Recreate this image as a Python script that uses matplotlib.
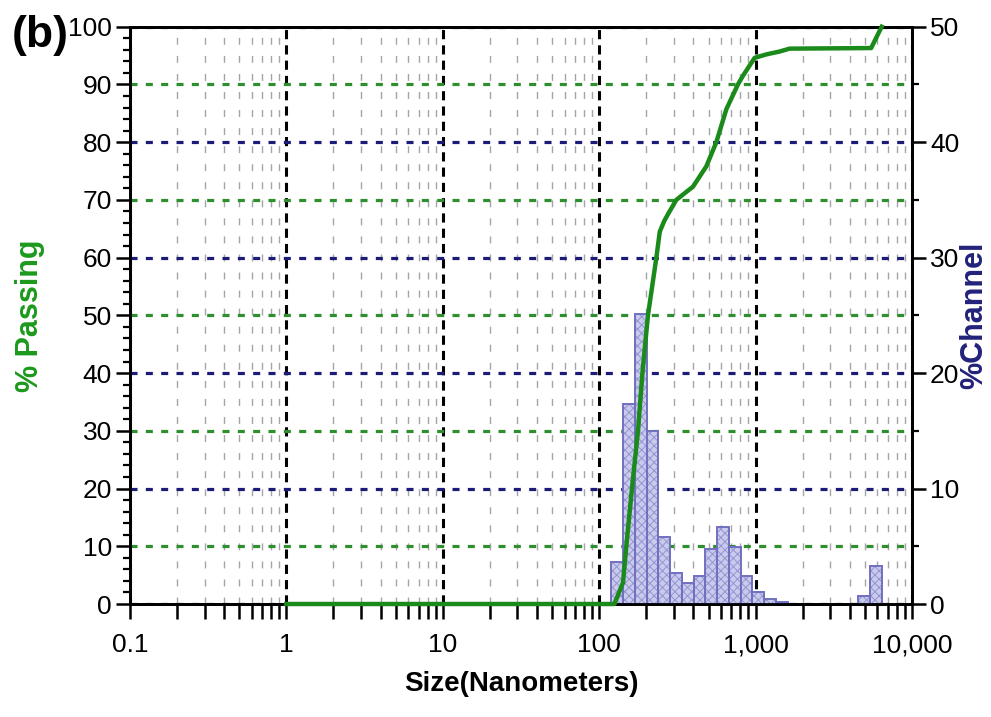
import numpy as np
import matplotlib
matplotlib.use("Agg")
import matplotlib.pyplot as plt
from matplotlib.ticker import FixedLocator, MultipleLocator, LogLocator, NullFormatter

# ---- data ----
# histogram channels: bin edges (nm) and % channel
bin_left = [119.4, 142.0, 168.9, 200.8, 238.8, 284.0, 337.7, 401.6, 477.6, 568.0,
            675.5, 803.3, 955.3, 1136.0, 1351.0, 4543.0, 5403.0]
bin_right = [142.0, 168.9, 200.8, 238.8, 284.0, 337.7, 401.6, 477.6, 568.0, 675.5,
             803.3, 955.3, 1136.0, 1351.0, 1607.0, 5403.0, 6426.0]
channel_pct = [3.6, 17.3, 25.1, 15.0, 5.8, 2.65, 1.8, 2.45, 4.75, 6.7,
               4.95, 2.45, 1.0, 0.45, 0.15, 0.7, 3.25]

# cumulative % passing curve
cum_size = [1, 125, 142, 149, 162, 177, 189, 205, 232, 244, 260, 275, 311, 398, 484,
            561, 650, 771, 830, 986, 1170, 1423, 1650, 5480, 6400]
cum_pct = [0, 0, 3.7, 10, 20, 30, 40, 50, 60, 64.5, 66.3, 67.5, 70, 72.3, 75.8,
           80, 85.7, 90, 91.5, 94.6, 95.2, 95.7, 96.2, 96.3, 100]

x_ticks = [0.1, 1, 10, 100, 1000, 10000]
x_ticklabels = ["0.1", "1", "10", "100", "1,000", "10,000"]
left_ticks = list(range(0, 101, 10))
right_ticks = list(range(0, 51, 10))

# ---- style ----
plt.rcParams['font.family'] = ['Liberation Sans', 'DejaVu Sans']
plt.rcParams['hatch.linewidth'] = 0.7
GREEN_GRID = '#2f8f2f'
NAVY_GRID = '#1c1c78'
CURVE = '#1a8a1a'

fig = plt.figure(figsize=(9.91, 7.17), dpi=100)
pos = [130 / 991, 1 - 604 / 717, (912 - 130) / 991, (604 - 26.7) / 717]
axl = fig.add_axes(pos)
axr = axl.twinx()
axl.set_zorder(2)
axr.set_zorder(1)
axl.patch.set_visible(False)

axl.set_xscale('log')
axl.set_xlim(0.1, 10000)
axl.set_ylim(0, 100)
axr.set_ylim(0, 50)

# x locators (shared)
axl.xaxis.set_major_locator(FixedLocator(x_ticks))
axl.xaxis.set_minor_locator(LogLocator(base=10, subs=np.arange(2, 10), numticks=20))
axl.xaxis.set_minor_formatter(NullFormatter())

# grids on the lower (right) axes, under the bars
axr.xaxis.set_visible(True)
axr.set_axisbelow(True)
axr.yaxis.set_major_locator(FixedLocator(right_ticks))
axr.yaxis.set_minor_locator(MultipleLocator(5))
axr.grid(which='major', axis='y', color=NAVY_GRID, linestyle=(0, (2.2, 2.6)), linewidth=2.3)
axr.grid(which='minor', axis='y', color=GREEN_GRID, linestyle=(0, (2.2, 2.6)), linewidth=2.3)
axr.grid(which='major', axis='x', color='black', linestyle=(0, (3.0, 2.0)), linewidth=2.2)
axr.grid(which='minor', axis='x', color='#a4a4ac', linestyle=(0, (5, 8)), linewidth=1.0)
axr.tick_params(axis='x', which='both', length=0, labelbottom=False, labeltop=False)

# histogram bars
lefts = np.array(bin_left)
widths = np.array(bin_right) - lefts
axr.bar(lefts, channel_pct, width=widths, align='edge', facecolor='#cacaec',
        edgecolor='#9494d2', hatch='xxxx', linewidth=0, zorder=2)
axr.bar(lefts, channel_pct, width=widths, align='edge', fill=False,
        edgecolor='#7070c0', linewidth=1.4, zorder=3)

# cumulative curve
axl.plot(cum_size, cum_pct, color=CURVE, linewidth=3.2, solid_joinstyle='round',
         zorder=5, clip_on=False)

# ticks
axl.set_xticklabels(x_ticklabels)
axl.yaxis.set_major_locator(FixedLocator(left_ticks))
axl.yaxis.set_minor_locator(MultipleLocator(2))
for a in (axl, axr):
    for s in a.spines.values():
        s.set_linewidth(2.0)
axl.tick_params(axis='x', which='both', direction='out', length=11, width=1.8,
                labelsize=19, pad=10)
axl.tick_params(axis='y', which='major', direction='out', length=10, width=1.8,
                labelsize=19, pad=3)
axl.tick_params(axis='y', which='minor', direction='out', length=5, width=1.6)
axr.tick_params(axis='y', which='major', direction='out', length=10, width=1.8,
                labelsize=19, pad=3)
axr.tick_params(axis='y', which='minor', direction='out', length=5, width=1.6)

axl.set_xlabel('Size(Nanometers)', fontsize=20, fontweight='bold', labelpad=10)
axl.set_ylabel('% Passing', fontsize=22, fontweight='bold', color='#1c9a1c')
axl.yaxis.label.set_va('center')
axl.yaxis.label.set_ha('center')
axl.yaxis.set_label_coords((30 - 130) / 782, 0.50)
axr.set_ylabel('%Channel', fontsize=22, fontweight='bold', color='#22227a', rotation=90)
axr.yaxis.label.set_va('center')
axr.yaxis.label.set_ha('center')
axr.yaxis.set_label_coords((974 - 130) / 782, 0.50)

fig.text(12 / 991, 1 - 36 / 717, '(b)', fontsize=32, fontweight='bold',
         va='center', ha='left')

fig.savefig('out.png', dpi=100)
